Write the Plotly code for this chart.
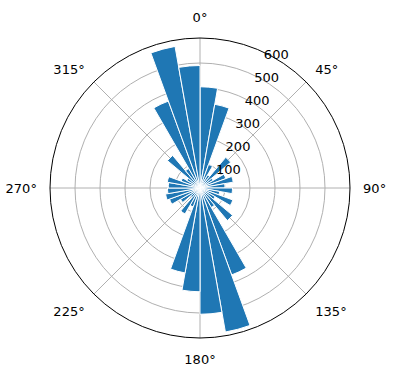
import plotly.graph_objects as go

bin_start = list(range(0, 360, 10))
counts = [405, 340, 100, 60, 160, 60, 110, 135, 100, 130,
          80, 140, 70, 170, 90, 370, 585, 505, 415, 345,
          80, 120, 50, 90, 130, 140, 130, 127, 133, 80,
          60, 170, 90, 370, 575, 490]
angle_ticks = [0, 45, 90, 135, 180, 225, 270, 315]
angle_labels = [f"{a}°" for a in angle_ticks]
radial_ticks = [100, 200, 300, 400, 500, 600]

theta = [b + 5 for b in bin_start]

fig = go.Figure()
fig.add_trace(go.Barpolar(
    r=counts, theta=theta, width=[10] * len(theta),
    marker=dict(color="#1f77b4", line=dict(color="white", width=1)),
    opacity=1,
))
fig.update_layout(
    width=396, height=380,
    margin=dict(l=0, r=0, t=0, b=0),
    paper_bgcolor="white",
    showlegend=False,
    font=dict(family="DejaVu Sans", size=13, color="black"),
    polar=dict(
        domain=dict(x=[50 / 396, 350 / 396], y=[1 - 338 / 380, 1 - 38 / 380]),
        bgcolor="white",
        bargap=0,
        angularaxis=dict(
            rotation=90, direction="clockwise",
            tickmode="array", tickvals=angle_ticks, ticktext=angle_labels,
            showline=True, linecolor="black", linewidth=1,
            gridcolor="#b0b0b0", gridwidth=1,
            ticks="outside", ticklen=10, tickcolor="rgba(0,0,0,0)",
            tickfont=dict(size=13, color="black"),
        ),
        radialaxis=dict(
            range=[0, 600], tickmode="array", tickvals=radial_ticks,
            showline=False, ticks="", angle=67.5, tickangle=67.5,
            gridcolor="#b0b0b0", gridwidth=1,
            tickfont=dict(size=13, color="black"),
        ),
    ),
)
fig.write_html("out.html")
